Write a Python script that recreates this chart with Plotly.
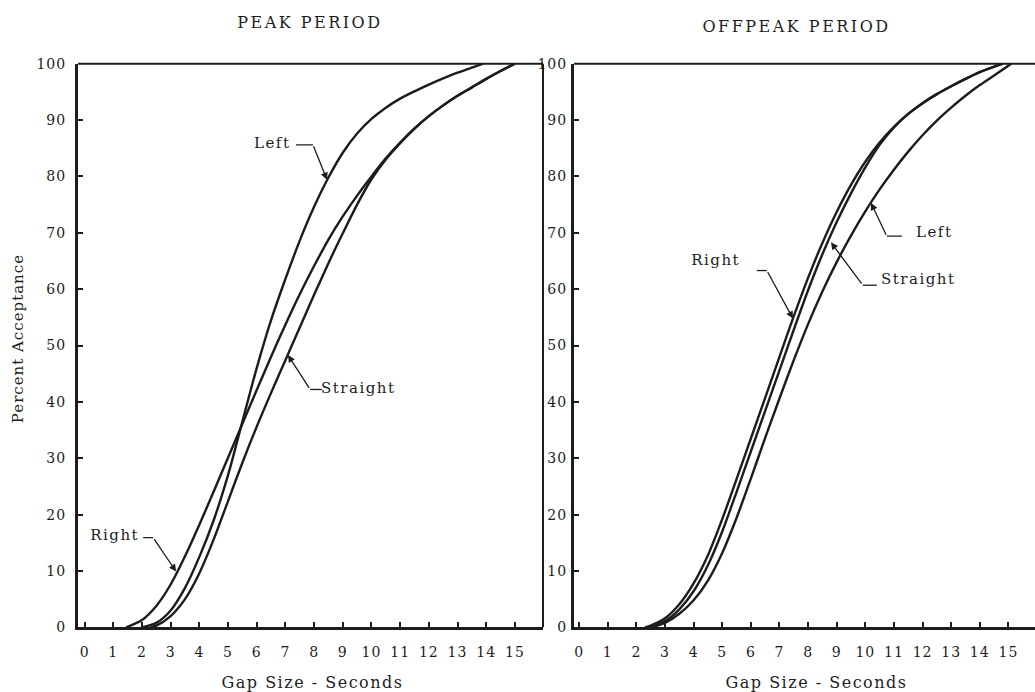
import json
import plotly.graph_objects as go

# ---------------- data: percent acceptance vs gap size (seconds) ----------------
# Peak period
peak_left_gap = [2.0, 2.5, 3, 3.5, 4, 4.5, 5, 5.5, 6, 6.5, 7, 7.5, 8, 8.5, 9, 9.5, 10, 10.5, 11,
                 11.5, 12, 12.5, 13, 13.5, 13.9]
peak_left_pct = [0, 0.8, 3, 7, 12.5, 19, 27, 36.5, 46, 54.5, 61.8, 68.6, 74.6, 79.8, 84.2, 87.6, 90.2, 92.2, 93.8,
                 95.1, 96.3, 97.4, 98.4, 99.3, 100]

peak_right_gap = [1.45, 2, 2.5, 3, 3.5, 4, 4.5, 5, 5.5, 6, 6.5, 7, 7.5, 8, 8.5, 9, 9.5, 10,
                  10.5, 11, 11.5, 12, 12.5, 13, 13.5, 14, 14.5, 15]
peak_right_pct = [0, 1.3, 3.8, 7.6, 12.6, 18.2, 24.1, 30.1, 36.1, 42.1, 48, 53.7, 59.1, 64.1, 68.8, 72.9, 76.6, 80,
                  83.2, 86.0, 88.5, 90.7, 92.6, 94.3, 95.8, 97.3, 98.7, 100]

peak_straight_gap = [2.3, 2.5, 3, 3.5, 4, 4.5, 5, 5.5, 6, 6.5, 7, 7.5, 8, 8.5, 9, 9.5, 10,
                     10.5, 11, 11.5, 12, 12.5, 13, 13.5, 14, 14.5, 15]
peak_straight_pct = [0, 0.3, 2, 5, 9.6, 15.6, 22.4, 29.2, 35.6, 41.6, 47.4, 53.2, 59, 64.6, 69.9, 75, 79.5,
                     83.0, 85.9, 88.5, 90.7, 92.6, 94.3, 95.8, 97.3, 98.7, 100]

# Offpeak period
off_right_gap = [2.3, 2.5, 3, 3.5, 4, 4.5, 5, 5.5, 6, 6.5, 7, 7.5, 8, 8.5, 9, 9.5, 10,
                 10.5, 11, 11.5, 12, 12.5, 13, 13.5, 14, 14.8]
off_right_pct = [0, 0.3, 1.6, 4.1, 7.8, 12.8, 19.2, 26.3, 33.5, 40.7, 48, 55.2, 62, 68.2, 73.7, 78.5, 82.6,
                 86, 88.8, 91.1, 93, 94.6, 96, 97.3, 98.5, 100]

off_straight_gap = [2.4, 2.5, 3, 3.5, 4, 4.5, 5, 5.5, 6, 6.5, 7, 7.5, 8, 8.5, 9, 9.5, 10,
                    10.5, 11, 11.5, 12, 12.5, 13, 13.5, 14, 14.8]
off_straight_pct = [0, 0.1, 1.1, 3.2, 6.4, 11, 17, 24, 31.2, 38.4, 45.6, 52.8, 59.8, 66.2, 71.9, 77, 81.6,
                    85.6, 88.7, 91.1, 93, 94.6, 96, 97.3, 98.5, 100]

off_left_gap = [2.5, 3, 3.5, 4, 4.5, 5, 5.5, 6, 6.5, 7, 7.5, 8, 8.5, 9, 9.5, 10,
                10.5, 11, 11.5, 12, 12.5, 13, 13.5, 14, 14.5, 15.1]
off_left_pct = [0, 0.8, 2.4, 4.8, 8.3, 13.2, 19.4, 26.4, 33.6, 40.6, 47.4, 53.8, 59.6, 64.8, 69.5, 73.8,
                77.7, 81.2, 84.4, 87.3, 89.9, 92.2, 94.3, 96.2, 97.9, 100]

x_ticks = list(range(0, 16))
y_ticks = list(range(0, 101, 10))

# ---------------- styling ----------------
W, H = 1035, 692
INK = "#1c1c1c"
SERIF = "DejaVu Serif"

fig = go.Figure()


def add_curve(gap, pct, xa, ya, name):
    fig.add_trace(go.Scatter(
        x=gap, y=pct, mode="lines", name=name, showlegend=False,
        hoverinfo="skip", xaxis=xa, yaxis=ya,
        line=dict(color=INK, width=2.4, shape="spline", smoothing=0.8),
    ))


add_curve(peak_left_gap, peak_left_pct, "x", "y", "Left")
add_curve(peak_right_gap, peak_right_pct, "x", "y", "Right")
add_curve(peak_straight_gap, peak_straight_pct, "x", "y", "Straight")
add_curve(off_left_gap, off_left_pct, "x2", "y2", "Left")
add_curve(off_right_gap, off_right_pct, "x2", "y2", "Right")
add_curve(off_straight_gap, off_straight_pct, "x2", "y2", "Straight")

y_dom = [1 - 634 / H, 1 - 57 / H]
axis_common = dict(
    showgrid=False, zeroline=False, showline=True, linewidth=3, linecolor=INK,
    ticks="inside", ticklen=5, tickwidth=1.5, tickcolor=INK,
    tickfont=dict(family=SERIF, size=14, color=INK),
)

fig.update_layout(
    width=W, height=H,
    margin=dict(l=0, r=0, t=0, b=0),
    paper_bgcolor="white", plot_bgcolor="white",
    xaxis=dict(domain=[78 / W, 543 / W], range=[-0.23, 15.98], tickvals=x_ticks,
               anchor="y", ticklabelstandoff=10, **axis_common),
    yaxis=dict(domain=y_dom, range=[0, 100], tickvals=y_ticks, anchor="x",
               ticklabelstandoff=6, **axis_common),
    xaxis2=dict(domain=[574 / W, 1.0], range=[-0.18, 15.93], tickvals=x_ticks,
                anchor="y2", ticklabelstandoff=10, **axis_common),
    yaxis2=dict(domain=y_dom, range=[0, 100], tickvals=y_ticks, anchor="x2",
                ticklabelstandoff=1, **axis_common),
)

# frame: top edges and right edge of the first panel
frame = dict(color=INK, width=2)
fig.add_shape(type="line", xref="x domain", yref="y domain", x0=0, x1=1, y0=1, y1=1, line=frame)
fig.add_shape(type="line", xref="x domain", yref="y domain", x0=1, x1=1, y0=0, y1=1, line=frame)
fig.add_shape(type="line", xref="x2 domain", yref="y2 domain", x0=0, x1=1, y0=1, y1=1, line=frame)


def px_x(p):
    return p / W


def px_y(p):
    return 1 - p / H


title_font = dict(family=SERIF, size=16, color=INK)
label_font = dict(family=SERIF, size=15, color=INK)

# panel titles and axis titles
for txt, cx, cy in [("PEAK PERIOD", 310, 15), ("OFFPEAK PERIOD", 796, 19),
                    ("Gap Size - Seconds", 312, 690), ("Gap Size - Seconds", 816, 690)]:
    fig.add_annotation(text=txt, xref="paper", yref="paper", x=px_x(cx), y=px_y(cy),
                       showarrow=False, xanchor="center", yanchor="middle", font=title_font)
fig.add_annotation(text="Percent Acceptance", xref="paper", yref="paper", x=px_x(18), y=px_y(339),
                   textangle=-90, showarrow=False, xanchor="center", yanchor="middle", font=label_font)

# curve labels with bent leader lines: (label, text x, text y, leader end, bend, arrow tip)
peak_labels = [
    ("Left", 5.94, 86.0, (7.37, 85.6), (7.96, 85.6), (8.45, 79.4)),
    ("Straight", 8.38, 42.4, (8.27, 42.2), (7.86, 42.2), (7.09, 48.3)),
    ("Right", 0.26, 16.3, (2.04, 15.9), (2.39, 15.9), (3.19, 9.9)),
]
off_labels = [
    ("Right", 3.97, 65.2, (6.21, 63.3), (6.56, 63.3), (7.47, 54.8)),
    ("Left", 11.8, 70.2, (11.28, 69.4), (10.75, 69.4), (10.2, 75.3)),
    ("Straight", 10.68, 61.8, (10.4, 60.7), (9.91, 60.7), (8.8, 68.3)),
]

leader = dict(color=INK, width=1.3)
for labels, xa, ya in [(peak_labels, "x", "y"), (off_labels, "x2", "y2")]:
    for name, tx, ty, p_end, p_bend, p_tip in labels:
        fig.add_annotation(text=name, xref=xa, yref=ya, x=tx, y=ty, showarrow=False,
                           xanchor="left", yanchor="middle", font=label_font)
        fig.add_shape(type="line", xref=xa, yref=ya, x0=p_end[0], y0=p_end[1],
                      x1=p_bend[0], y1=p_bend[1], line=leader)
        fig.add_annotation(text="", xref=xa, yref=ya, axref=xa, ayref=ya,
                           x=p_tip[0], y=p_tip[1], ax=p_bend[0], ay=p_bend[1],
                           showarrow=True, arrowhead=2, arrowsize=1.1, arrowwidth=1.3,
                           arrowcolor=INK, standoff=0)

# typewriter-like letter spacing for the printed texts
spacing = {"PEAK PERIOD": 2.5, "OFFPEAK PERIOD": 2.5, "Gap Size - Seconds": 1.5,
           "Percent Acceptance": 1.0, "Left": 1.5, "Right": 1.5, "Straight": 1.5}
post = (
    "var sp = " + json.dumps(spacing) + ";"
    "document.querySelectorAll('.annotation-text').forEach(function(t){"
    "  var s = sp[t.textContent]; if (s !== undefined) { t.style.letterSpacing = s + 'px'; }"
    "});"
    "document.querySelectorAll('.xtick text, .ytick text, .x2tick text, .y2tick text').forEach(function(t){"
    "  t.style.letterSpacing = '1px';"
    "});"
)

fig.write_html("out.html", post_script=post)
